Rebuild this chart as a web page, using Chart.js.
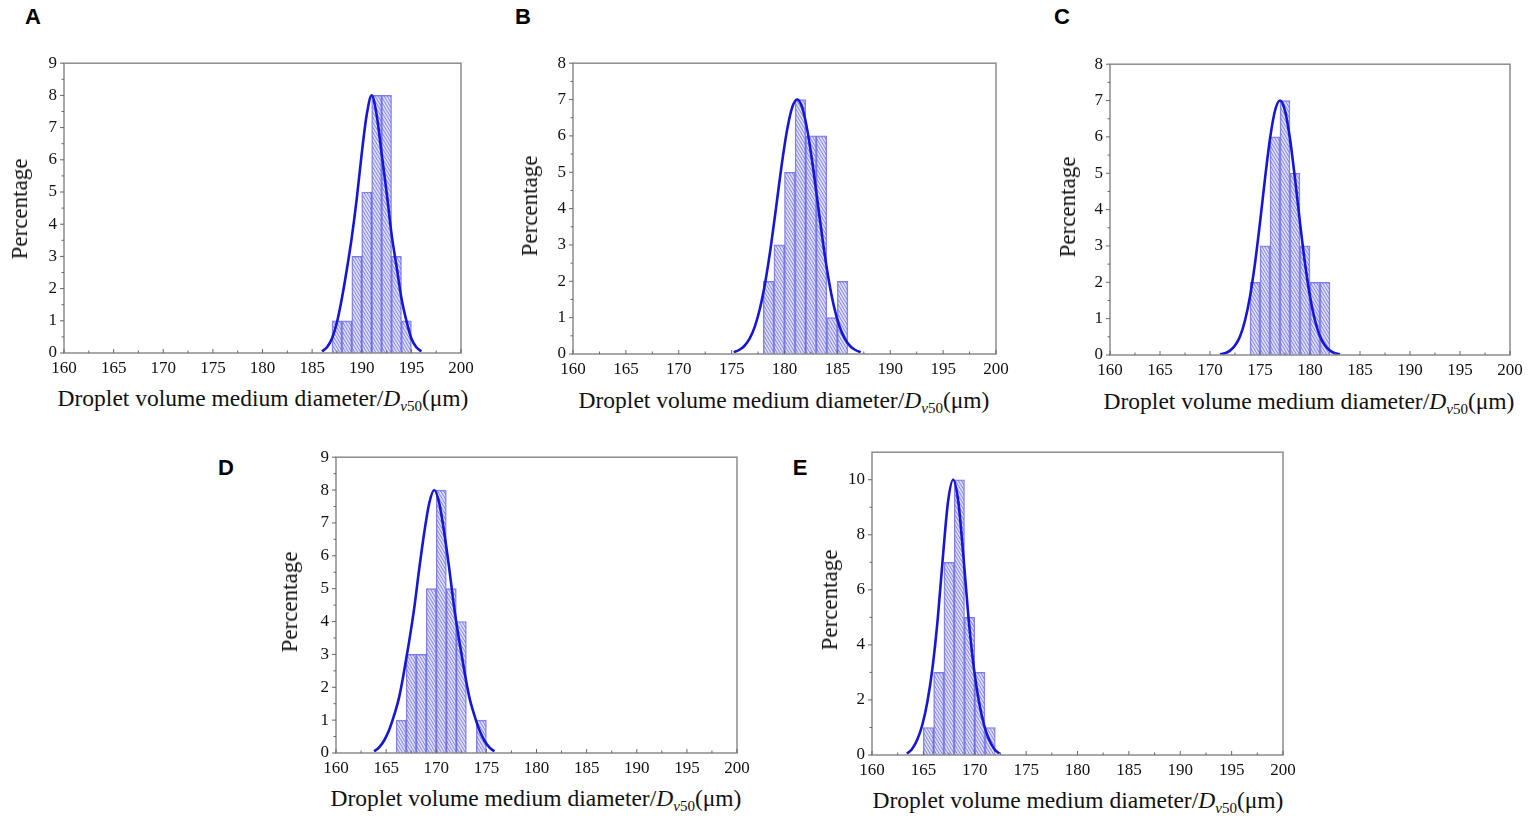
<!DOCTYPE html>
<html>
<head>
<meta charset="utf-8">
<script src="https://cdn.jsdelivr.net/npm/chart.js@4.4.0/dist/chart.umd.min.js"></script>
<style>
  body { margin: 0; background: #fff; width: 1535px; height: 823px; position: relative; overflow: hidden;
         font-family: "Liberation Serif", "Times New Roman", serif; color: #111; }
  .panel { position: absolute; }
  .letter { position: absolute; font: bold 22px "Liberation Sans", Arial, sans-serif; color: #000;
            transform: translate(-50%, -50%); }
  .xtitle { position: absolute; font-size: 23.5px; white-space: nowrap; transform: translate(-50%, -50%); }
  .xtitle sub { font-size: 0.64em; vertical-align: -0.28em; }
  .ytitle { position: absolute; font-size: 23px; white-space: nowrap;
            transform: translate(-50%, -50%) rotate(-90deg); }
</style>
</head>
<body>
<script>
// tick labels
const xTicks = [160, 165, 170, 175, 180, 185, 190, 195, 200];
const yTicks9 = [0, 1, 2, 3, 4, 5, 6, 7, 8, 9];
const yTicks8 = [0, 1, 2, 3, 4, 5, 6, 7, 8];
const yTicksE = [0, 2, 4, 6, 8, 10];

// histogram bins (left edge, 1 µm wide) and percentages
const binsA = [187, 188, 189, 190, 191, 192, 193, 194];
const countsA = [1, 1, 3, 5, 8, 8, 3, 1];
const binsB = [178, 179, 180, 181, 182, 183, 184, 185];
const countsB = [2, 3, 5, 7, 6, 6, 1, 2];
const binsC = [174, 175, 176, 177, 178, 179, 180, 181];
const countsC = [2, 3, 6, 7, 5, 3, 2, 2];
const binsD = [166, 167, 168, 169, 170, 171, 172, 173, 174];
const countsD = [1, 3, 3, 5, 8, 5, 4, 0, 1];
const binsE = [165, 166, 167, 168, 169, 170, 171];
const countsE = [1, 3, 7, 10, 5, 3, 1];

// fitted curves
const curveXA = [186, 186.5, 187, 187.5, 188, 188.5, 189, 189.5, 190, 190.5, 191,
                 191.5, 192, 192.5, 193, 193.5, 194, 194.5, 195, 195.5, 196];
const curveYA = [0.05, 0.18, 0.45, 0.95, 1.7, 2.6, 3.6, 4.8, 6.2, 7.4, 8,
                 7.4, 6.2, 5.0, 3.7, 2.7, 1.7, 1.0, 0.45, 0.18, 0.05];
const curveXB = [175.2, 175.7, 176.2, 176.7, 177.2, 177.7, 178.2, 178.7, 179.2, 179.7, 180.2, 180.7,
                 181.2, 181.7, 182.2, 182.7, 183.2, 183.7, 184.2, 184.7, 185.2, 185.7, 186.2, 186.7, 187.2];
const curveYB = [0.05, 0.11, 0.22, 0.42, 0.76, 1.28, 2.01, 2.94, 4.02, 5.13, 6.09, 6.76,
                 7, 6.76, 6.09, 5.13, 4.02, 2.94, 2.01, 1.28, 0.76, 0.42, 0.22, 0.11, 0.05];
const curveXC = [171, 171.5, 172, 172.5, 173, 173.5, 174, 174.5, 175, 175.5, 176, 176.5,
                 177, 177.5, 178, 178.5, 179, 179.5, 180, 180.5, 181, 181.5, 182, 182.5, 183];
const curveYC = [0.02, 0.05, 0.12, 0.26, 0.51, 0.95, 1.61, 2.52, 3.64, 4.85, 5.95, 6.72,
                 7, 6.72, 5.95, 4.85, 3.64, 2.52, 1.61, 0.95, 0.51, 0.26, 0.12, 0.05, 0.02];
const curveXD = [163.8, 164.3, 164.8, 165.3, 165.8, 166.3, 166.8, 167.3, 167.8, 168.3, 168.8, 169.3,
                 169.8, 170.3, 170.8, 171.3, 171.8, 172.3, 172.8, 173.3, 173.8, 174.3, 174.8, 175.3, 175.8];
const curveYD = [0.05, 0.17, 0.38, 0.7, 1.15, 1.7, 2.5, 3.4, 4.4, 5.6, 6.7, 7.6,
                 8, 7.6, 6.7, 5.6, 4.4, 3.4, 2.5, 1.7, 1.15, 0.7, 0.38, 0.17, 0.05];
const curveXE = [163.4, 163.9, 164.4, 164.9, 165.4, 165.9, 166.4, 166.9, 167.4,
                 167.9, 168.4, 168.9, 169.4, 169.9, 170.4, 170.9, 171.4, 171.9, 172.4];
const curveYE = [0.05, 0.22, 0.55, 1.1, 1.95, 3.2, 4.95, 7.2, 9.2,
                 10, 9.2, 7.2, 4.95, 3.2, 1.95, 1.1, 0.55, 0.22, 0.05];

// page layout: plot-area box of each panel plus label anchors
const layout = {
  A: { L: 64, R: 461, T: 58, B: 353, letter: [33, 17], xt: [263, 400], yt: [20, 209] },
  B: { L: 573, R: 996, T: 58, B: 354, letter: [523, 17], xt: [784, 402], yt: [530, 206] },
  C: { L: 1110, R: 1510, T: 59, B: 355, letter: [1062, 17], xt: [1309, 403], yt: [1068, 207] },
  D: { L: 336, R: 737, T: 452, B: 753, letter: [226, 468], xt: [536, 800], yt: [290, 602] },
  E: { L: 872, R: 1283, T: 447, B: 755, letter: [800, 468], xt: [1078, 802], yt: [830, 600] },
};

const CURVE = "#1616d6";
const PAD_L = 40, PAD_T = 12, PAD_R = 24, PAD_B = 30;

function makeHatch() {
  const c = document.createElement("canvas");
  c.width = 3;
  c.height = 5;
  const g = c.getContext("2d");
  g.fillStyle = "rgba(200,200,250,0.6)";
  g.fillRect(0, 0, 3, 5);
  g.strokeStyle = "rgba(85,85,215,0.75)";
  g.lineWidth = 0.9;
  [-3, 0, 3].forEach((k) => {
    g.beginPath();
    g.moveTo(k, 0);
    g.lineTo(k + 3, 5);
    g.stroke();
  });
  return g.createPattern(c, "repeat");
}
const hatch = makeHatch();

// box frame and tick marks (major + minor halfway)
const framePlugin = {
  id: "frame",
  afterDraw(chart) {
    const { ctx, chartArea: a, scales } = chart;
    const xs = scales.x, ys = scales.y;
    ctx.save();
    ctx.strokeStyle = "#8c8c8c";
    ctx.lineWidth = 1.5;
    ctx.strokeRect(a.left, a.top, a.right - a.left, a.bottom - a.top);
    ctx.strokeStyle = "#666";
    ctx.lineWidth = 1;
    const xv = xs.ticks.map((t) => t.value);
    xv.forEach((v, i) => {
      const px = xs.getPixelForValue(v);
      ctx.beginPath();
      ctx.moveTo(px, a.bottom);
      ctx.lineTo(px, a.bottom - 4);
      ctx.stroke();
      if (i < xv.length - 1) {
        const pm = xs.getPixelForValue((v + xv[i + 1]) / 2);
        ctx.beginPath();
        ctx.moveTo(pm, a.bottom);
        ctx.lineTo(pm, a.bottom - 2.5);
        ctx.stroke();
      }
    });
    const yv = ys.ticks.map((t) => t.value);
    yv.forEach((v, i) => {
      const py = ys.getPixelForValue(v);
      ctx.beginPath();
      ctx.moveTo(a.left, py);
      ctx.lineTo(a.left - 4, py);
      ctx.stroke();
      if (i < yv.length - 1) {
        const pm = ys.getPixelForValue((v + yv[i + 1]) / 2);
        ctx.beginPath();
        ctx.moveTo(a.left, pm);
        ctx.lineTo(a.left - 2.5, pm);
        ctx.stroke();
      }
    });
    ctx.restore();
  },
};

function addText(cls, html, x, y) {
  const el = document.createElement("div");
  el.className = cls;
  el.innerHTML = html;
  el.style.left = x + "px";
  el.style.top = y + "px";
  document.body.appendChild(el);
}

function buildPanel(key, bins, counts, cx, cy, yTicks, yMax) {
  const box = layout[key];
  const wrap = document.createElement("div");
  wrap.className = "panel";
  wrap.style.left = box.L - PAD_L + "px";
  wrap.style.top = box.T - PAD_T + "px";
  wrap.style.width = box.R - box.L + PAD_L + PAD_R + "px";
  wrap.style.height = box.B - box.T + PAD_T + PAD_B + "px";
  const canvas = document.createElement("canvas");
  wrap.appendChild(canvas);
  document.body.appendChild(wrap);

  const tickFont = { family: "Liberation Serif", size: 17 };

  new Chart(canvas, {
    type: "bar",
    data: {
      datasets: [
        {
          type: "line",
          data: cx.map((x, i) => ({ x, y: cy[i] })),
          borderColor: CURVE,
          borderWidth: 2.6,
          pointRadius: 0,
          cubicInterpolationMode: "monotone",
          fill: false,
          order: 0,
        },
        {
          type: "bar",
          data: bins.map((b, i) => ({ x: b + 0.5, y: counts[i] })),
          backgroundColor: hatch,
          borderColor: "rgba(70,70,220,0.7)",
          borderWidth: 1,
          barPercentage: 1,
          categoryPercentage: 1,
          order: 1,
        },
      ],
    },
    options: {
      responsive: true,
      maintainAspectRatio: false,
      animation: false,
      layout: { padding: { top: PAD_T, right: PAD_R, left: 0, bottom: 0 } },
      plugins: { legend: { display: false }, tooltip: { enabled: false } },
      scales: {
        x: {
          type: "linear",
          min: 160,
          max: 200,
          offset: false,
          grid: { display: false, drawTicks: false },
          border: { display: false },
          afterBuildTicks: (ax) => { ax.ticks = xTicks.map((v) => ({ value: v })); },
          afterFit: (ax) => { ax.height = PAD_B; },
          ticks: { padding: 5, color: "#111", font: tickFont, maxRotation: 0, autoSkip: false },
        },
        y: {
          min: 0,
          max: yMax,
          grid: { display: false, drawTicks: false },
          border: { display: false },
          afterBuildTicks: (ax) => { ax.ticks = yTicks.map((v) => ({ value: v })); },
          afterFit: (ax) => { ax.width = PAD_L; },
          ticks: { padding: 7, color: "#111", font: tickFont, autoSkip: false },
        },
      },
    },
    plugins: [framePlugin],
  });

  addText("letter", key, box.letter[0], box.letter[1]);
  addText("xtitle", "Droplet volume medium diameter/<i>D</i><sub><i>v</i>50</sub>(μm)", box.xt[0], box.xt[1]);
  addText("ytitle", "Percentage", box.yt[0], box.yt[1]);
}

buildPanel("A", binsA, countsA, curveXA, curveYA, yTicks9, 9);
buildPanel("B", binsB, countsB, curveXB, curveYB, yTicks8, 8);
buildPanel("C", binsC, countsC, curveXC, curveYC, yTicks8, 8);
buildPanel("D", binsD, countsD, curveXD, curveYD, yTicks9, 9);
buildPanel("E", binsE, countsE, curveXE, curveYE, yTicksE, 11);
</script>
</body>
</html>
